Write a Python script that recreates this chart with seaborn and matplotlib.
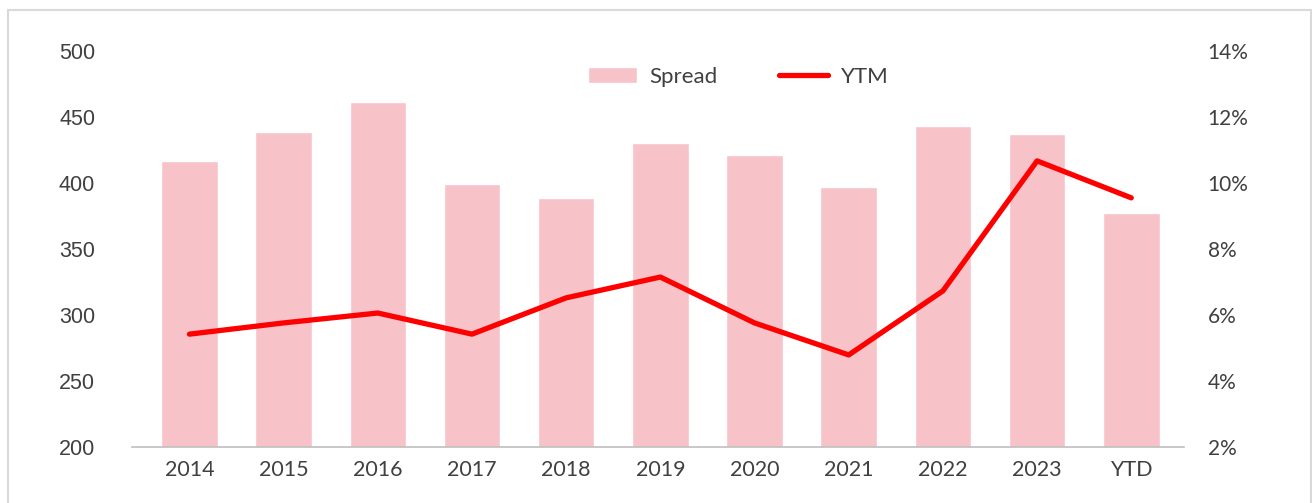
import matplotlib
matplotlib.use("Agg")
import matplotlib.pyplot as plt
import seaborn as sns
import pandas as pd
from matplotlib.patches import Rectangle
from matplotlib.ticker import FuncFormatter

categories = ["2014", "2015", "2016", "2017", "2018", "2019", "2020", "2021", "2022", "2023", "YTD"]
spread = [417, 439, 461, 399, 389, 430, 421, 397, 443, 437, 377]
ytm = [5.42, 5.76, 6.06, 5.42, 6.52, 7.15, 5.76, 4.79, 6.73, 10.67, 9.55]
left_ticks = [200, 250, 300, 350, 400, 450, 500]
right_ticks = [2, 4, 6, 8, 10, 12, 14]

df = pd.DataFrame({"cat": categories, "spread": spread, "ytm": ytm})

sns.set_theme(style="white")
plt.rcParams["font.family"] = ["Lato", "DejaVu Sans"]
text_color = "#404040"

W, H = 1312, 503
fig = plt.figure(figsize=(W / 100, H / 100), dpi=100)
ax = fig.add_axes([132 / W, 1 - 447 / H, (1184 - 132) / W, (447 - 51) / H])

sns.barplot(data=df, x="cat", y="spread", color="#F7C3C9", saturation=1,
            width=0.6, ax=ax, label="Spread")
ax.set_ylim(200, 500)
ax.set_yticks(left_ticks)
ax.set_xlim(-0.61, len(categories) - 1 + 0.56)
ax.set_xlabel("")
ax.set_ylabel("")
for s in ["top", "right", "left"]:
    ax.spines[s].set_visible(False)
ax.spines["bottom"].set_color("#BFBFBF")
ax.spines["bottom"].set_linewidth(1.2)
ax.tick_params(axis="both", length=0, colors=text_color)
ax.tick_params(axis="y", pad=26.5)
ax.tick_params(axis="x", pad=9)
for lab in ax.get_yticklabels():
    lab.set_fontfamily(["Liberation Sans", "DejaVu Sans"])
    lab.set_fontsize(15.5)
for lab in ax.get_xticklabels():
    lab.set_fontsize(15.5)

ax2 = ax.twinx()
sns.lineplot(data=df, x="cat", y="ytm", color="#FF0000", linewidth=3.8,
             ax=ax2, label="YTM", sort=False)
ax2.set_ylim(2, 14)
ax2.set_yticks(right_ticks)
ax2.yaxis.set_major_formatter(FuncFormatter(lambda v, p: f"{v:.0f}%"))
ax2.set_ylabel("")
for s in ["top", "right", "left", "bottom"]:
    ax2.spines[s].set_visible(False)
ax2.tick_params(axis="y", length=0, colors=text_color, pad=17, labelsize=15)
ax2.grid(False)
ax.grid(False)

h1, l1 = ax.get_legend_handles_labels()
h2, l2 = ax2.get_legend_handles_labels()
if ax2.get_legend():
    ax2.get_legend().remove()
if ax.get_legend():
    ax.get_legend().remove()
leg = ax2.legend(h1 + h2, l1 + l2, loc="center", bbox_to_anchor=(738 / W, 1 - 77 / H),
                 bbox_transform=fig.transFigure, ncol=2, frameon=False,
                 fontsize=16, handlelength=2.2, handleheight=0.7,
                 columnspacing=2.8, handletextpad=0.55)
for t in leg.get_texts():
    t.set_color(text_color)

fig.patches.append(Rectangle((8 / W, -0.05), (1311 - 8) / W, 1 - 10 / H + 0.05,
                             transform=fig.transFigure, fill=False,
                             edgecolor="#D9D9D9", linewidth=1.5, zorder=0))

fig.savefig("out.png", dpi=100, facecolor="white")
